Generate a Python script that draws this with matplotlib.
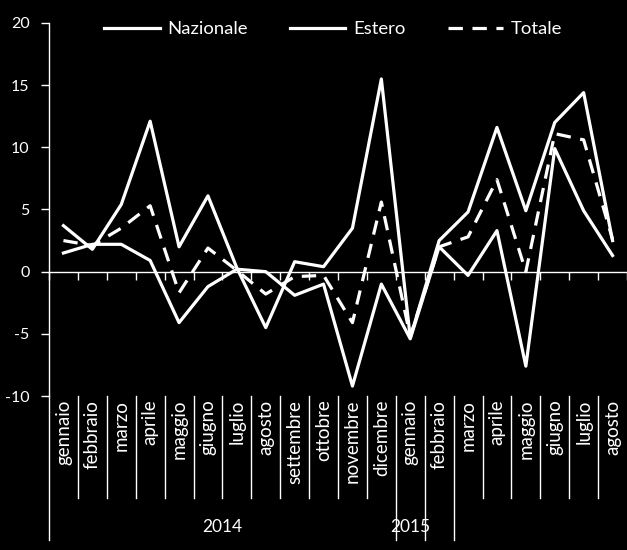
# grafico variazioni mensili: Nazionale, Estero, Totale

import matplotlib
matplotlib.use("Agg")
import matplotlib.pyplot as plt

# dati
mesi = ["gennaio", "febbraio", "marzo", "aprile", "maggio", "giugno",
        "luglio", "agosto", "settembre", "ottobre", "novembre", "dicembre",
        "gennaio", "febbraio", "marzo", "aprile", "maggio", "giugno",
        "luglio", "agosto"]
nazionale = [1.5, 2.2, 2.2, 0.9, -4.1, -1.2, 0.2, 0.0, -1.9, -1.0, -9.2, -1.0,
             -5.4, 2.0, -0.3, 3.3, -7.6, 9.9, 4.9, 1.3]
estero = [3.7, 1.8, 5.4, 12.1, 2.0, 6.1, 0.3, -4.5, 0.8, 0.4, 3.5, 15.5,
          -5.3, 2.5, 4.8, 11.6, 4.9, 12.0, 14.4, 2.5]
totale = [2.5, 2.1, 3.5, 5.3, -1.7, 1.9, 0.1, -1.8, -0.4, -0.3, -4.1, 5.6,
          -5.2, 2.0, 2.8, 7.4, 0.0, 11.1, 10.6, 2.6]
# gruppi dell'asse a due livelli (inizio del gruppo, etichetta)
gruppi_inizio = [0, 12, 13, 14]
gruppi_nome = ["2014", "2015", "", ""]
y_ticks = [-10, -5, 0, 5, 10, 15, 20]

plt.rcParams["font.family"] = ["Lato", "DejaVu Sans"]
plt.rcParams["axes.unicode_minus"] = False

fig = plt.figure(figsize=(6.27, 5.5), dpi=100, facecolor="black")
ax = fig.add_axes([49 / 627, 1 - 396 / 550, 1 - 49 / 627, 373 / 550])
ax.set_facecolor("black")

n = len(mesi)
x = [i + 0.5 for i in range(n)]
lw = 2.3
ax.plot(x, nazionale, color="white", lw=lw, label="Nazionale")
ax.plot(x, estero, color="white", lw=lw, label="Estero")
ax.plot(x, totale, color="white", lw=lw, ls=(0, (4.5, 3)), label="Totale")

ax.set_xlim(0, n)
ax.set_ylim(-10, 20)

# assi
for s in ["top", "right"]:
    ax.spines[s].set_visible(False)
ax.spines["left"].set_color("white")
ax.spines["left"].set_linewidth(1.0)
ax.spines["bottom"].set_position(("data", 0))
ax.spines["bottom"].set_color("white")
ax.spines["bottom"].set_linewidth(1.0)

ax.set_yticks(y_ticks)
ax.set_yticklabels([str(v) for v in y_ticks])
ax.tick_params(axis="y", colors="white", labelcolor="white", direction="out",
               length=6, width=1, pad=8, labelsize=11.5)
ax.set_xticks(range(n + 1))
ax.set_xticklabels([])
ax.tick_params(axis="x", colors="white", direction="out", length=6, width=1)

# etichette categorie (mesi e anni)
tr = ax.get_xaxis_transform()
for i, m in enumerate(mesi):
    ax.text(i + 0.5, -0.01, m, transform=tr, rotation=90, ha="center",
            va="top", color="white", fontsize=13.5)
for k in range(n):
    lungo = k in gruppi_inizio
    y_end = -0.386 if lungo else -0.273
    ax.plot([k, k], [0, y_end], transform=tr, color="white", lw=1,
            clip_on=False)
fine = gruppi_inizio[1:] + [n]
for a, b, nome in zip(gruppi_inizio, fine, gruppi_nome):
    if nome:
        ax.text((a + b) / 2, -0.352, nome, transform=tr, ha="center",
                va="center", color="white", fontsize=12.5)

# legenda
leg = fig.legend(loc="center", bbox_to_anchor=(333 / 627, 1 - 29 / 550),
                 ncol=3, frameon=False, fontsize=13.3, handlelength=3.0,
                 handletextpad=0.4, columnspacing=2.3)
for t in leg.get_texts():
    t.set_color("white")

fig.savefig("out.png", dpi=100, facecolor="black")
